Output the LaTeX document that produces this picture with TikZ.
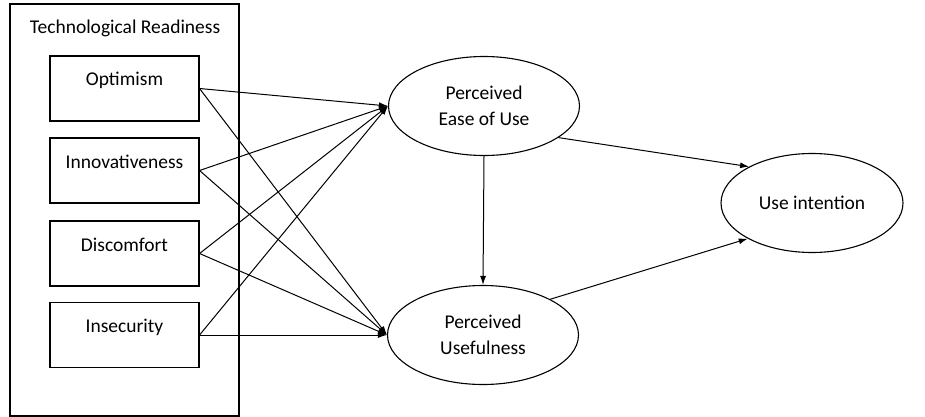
\documentclass[tikz,border=0pt]{standalone}
\usepackage{fontspec}
\setmainfont{Carlito}
\usepackage{tikz}
\usetikzlibrary{arrows.meta,shapes}

\tikzstyle{edge}=[
	-{Latex[length=9pt,width=6pt]},
	draw=black,
	line width=1pt
]
\tikzstyle{factor}=[
	rectangle,
	draw=black,
	line width=1.1pt,
	minimum width=149pt,
	minimum height=65pt,
	text height=14pt,
	text depth=19pt,
	inner sep=0pt
]
\tikzstyle{construct}=[
	ellipse,
	draw=black,
	line width=1.1pt,
	minimum width=191pt,
	minimum height=99pt,
	align=center,
	inner sep=0pt
]

\begin{document}
\begin{tikzpicture}[x=1pt, y=-1pt, font=\fontsize{19.5}{25.5}\selectfont]
\useasboundingbox (0,0) rectangle (925,417);
\node[rectangle, draw=black, line width=1.1pt, minimum width=229pt, minimum height=412pt] at (124.5,210) (tr) {};
\node at (125,28) (trtitle) {Technological Readiness};

\node[construct] at (484,106) (peu) {Perceived\\Ease of Use};
\node[construct] at (483,335) (pu) {Perceived\\Usefulness};
\node[construct, minimum width=182pt] at (812,203) (ui) {Use intention};

\foreach \y/\lab/\txt in {88.5/opt/Optimism, 170.5/inn/Innovativeness, 253.5/dis/Discomfort, 335/ins/Insecurity}{
    \node[factor] at (124.5,\y) (\lab) {\txt};
    \draw[edge] (\lab.east) to (peu.west);
    \draw[edge] (\lab.east) to (pu.west);
}

\draw[edge] (peu.south) to (pu.north);
\draw[edge] (peu.-23) to (ui.150);
\draw[edge] (pu.28) to (ui.209);
\end{tikzpicture}
\end{document}
